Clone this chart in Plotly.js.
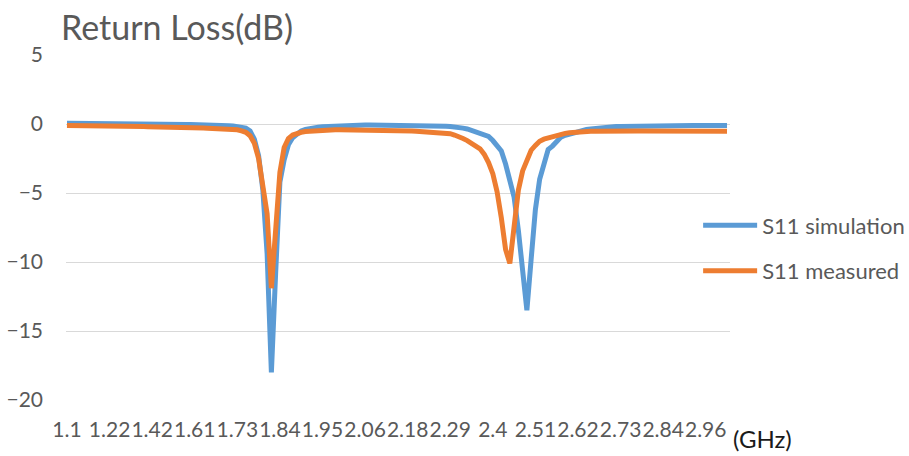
<!DOCTYPE html>
<html>
<head>
<meta charset="utf-8">
<script src="https://cdn.plot.ly/plotly-3.0.1.min.js"></script>
<style>html,body{margin:0;padding:0;background:#fff;}#chart{width:909px;height:456px;}</style>
</head>
<body>
<div id="chart"></div>
<script>
// Frequency categories (GHz)
const freq = [
1.1,1.112,1.124,1.136,1.148,1.16,1.172,1.184,1.196,1.208,
1.22,1.24,1.26,1.28,1.3,1.32,1.34,1.36,1.38,1.4,
1.42,1.439,1.458,1.477,1.496,1.515,1.534,1.553,1.572,1.591,
1.61,1.622,1.634,1.646,1.658,1.67,1.682,1.694,1.706,1.718,
1.73,1.741,1.752,1.763,1.774,1.785,1.796,1.807,1.818,1.829,
1.84,1.851,1.862,1.873,1.884,1.895,1.906,1.917,1.928,1.939,
1.95,1.961,1.972,1.983,1.994,2.005,2.016,2.027,2.038,2.049,
2.06,2.072,2.084,2.096,2.108,2.12,2.132,2.144,2.156,2.168,
2.18,2.191,2.202,2.213,2.224,2.235,2.246,2.257,2.268,2.279,
2.29,2.301,2.312,2.323,2.334,2.345,2.356,2.367,2.378,2.389,
2.4,2.411,2.422,2.433,2.444,2.455,2.466,2.477,2.488,2.499,
2.51,2.521,2.532,2.543,2.554,2.565,2.576,2.587,2.598,2.609,
2.62,2.631,2.642,2.653,2.664,2.675,2.686,2.697,2.708,2.719,
2.73,2.741,2.752,2.763,2.774,2.785,2.796,2.807,2.818,2.829,
2.84,2.852,2.864,2.876,2.888,2.9,2.912,2.924,2.936,2.948,
2.96,2.972,2.984,2.996,3.008,3.02
];

// S11 simulation (dB)
const s11Simulation = [
0.06,0.06,0.05,0.05,0.05,0.04,0.04,0.04,0.03,0.03,
0.03,0.02,0.02,0.02,0.01,0.01,0.01,0,0,0,
0,-0.01,-0.01,-0.01,-0.02,-0.02,-0.02,-0.03,-0.03,-0.04,
-0.04,-0.05,-0.05,-0.06,-0.07,-0.08,-0.09,-0.1,-0.12,-0.14,
-0.17,-0.2,-0.3,-0.5,-1.1,-2.3,-4.8,-9.4,-18,-10.8,
-4.2,-2.6,-1.5,-1.0,-0.7,-0.5,-0.4,-0.32,-0.27,-0.23,
-0.2,-0.18,-0.16,-0.14,-0.12,-0.11,-0.1,-0.1,-0.09,-0.09,
-0.08,-0.08,-0.08,-0.08,-0.08,-0.08,-0.08,-0.08,-0.08,-0.08,
-0.09,-0.09,-0.1,-0.1,-0.11,-0.12,-0.13,-0.14,-0.15,-0.16,
-0.18,-0.2,-0.25,-0.3,-0.36,-0.47,-0.53,-0.6,-0.75,-0.9,
-1.2,-1.55,-1.95,-2.9,-4.0,-5.3,-7.7,-10.7,-13.5,-9.8,
-6.2,-4.0,-2.75,-1.85,-1.6,-1.25,-0.95,-0.82,-0.72,-0.62,
-0.52,-0.46,-0.4,-0.36,-0.32,-0.28,-0.26,-0.23,-0.21,-0.19,
-0.18,-0.17,-0.16,-0.15,-0.14,-0.13,-0.12,-0.12,-0.11,-0.11,
-0.11,-0.1,-0.1,-0.1,-0.1,-0.1,-0.1,-0.1,-0.1,-0.1,
-0.1,-0.1,-0.1,-0.1,-0.1,-0.1
];

// S11 measured (dB)
const s11Measured = [
-0.1,-0.1,-0.11,-0.11,-0.12,-0.12,-0.13,-0.13,-0.14,-0.14,
-0.15,-0.15,-0.16,-0.16,-0.17,-0.18,-0.18,-0.19,-0.19,-0.2,
-0.2,-0.21,-0.21,-0.22,-0.23,-0.23,-0.24,-0.25,-0.26,-0.27,
-0.27,-0.28,-0.29,-0.3,-0.31,-0.32,-0.34,-0.35,-0.37,-0.39,
-0.42,-0.5,-0.6,-0.85,-1.4,-2.5,-4.5,-6.5,-11.9,-7.3,
-3.5,-1.7,-1.05,-0.8,-0.68,-0.6,-0.55,-0.52,-0.5,-0.48,
-0.46,-0.44,-0.43,-0.42,-0.42,-0.42,-0.42,-0.42,-0.42,-0.42,
-0.42,-0.43,-0.43,-0.44,-0.44,-0.45,-0.45,-0.46,-0.46,-0.47,
-0.48,-0.5,-0.52,-0.54,-0.56,-0.58,-0.6,-0.63,-0.66,-0.68,
-0.7,-0.8,-0.9,-1.05,-1.2,-1.4,-1.6,-1.8,-2.2,-2.8,
-3.6,-4.9,-6.8,-9.1,-10.1,-7.6,-4.8,-3.4,-2.6,-1.9,
-1.55,-1.25,-1.1,-1.0,-0.9,-0.8,-0.75,-0.68,-0.64,-0.6,
-0.57,-0.55,-0.54,-0.53,-0.52,-0.51,-0.5,-0.5,-0.5,-0.5,
-0.5,-0.5,-0.5,-0.5,-0.5,-0.5,-0.5,-0.5,-0.5,-0.5,
-0.5,-0.5,-0.5,-0.5,-0.5,-0.5,-0.5,-0.5,-0.5,-0.5,
-0.5,-0.5,-0.51,-0.51,-0.52,-0.52
];

// Tick labels shown on the category axis
const tickLabels = ["1.1","1.22","1.42","1.61","1.73","1.84","1.95","2.06","2.18","2.29","2.4","2.51","2.62","2.73","2.84","2.96"];
const yTicks = [5,0,-5,-10,-15,-20];

const cats = freq.map(String);
const FONT = 'Lato, "Open Sans", sans-serif';
const GREY = '#595959';

const traces = [
  {x: cats, y: s11Simulation, type: 'scatter', mode: 'lines', name: 'S11 simulation',
   legendgroup: 'a', line: {color: '#5B9BD5', width: 5}},
  {x: cats, y: s11Measured, type: 'scatter', mode: 'lines', name: 'S11 measured',
   legendgroup: 'b', line: {color: '#ED7D31', width: 5}}
];

const layout = {
  width: 909, height: 456,
  margin: {l: 66, r: 179, t: 55, b: 56, pad: 0, autoexpand: false},
  paper_bgcolor: '#ffffff', plot_bgcolor: '#ffffff',
  font: {family: FONT, color: GREY, size: 20},
  showlegend: true,
  legend: {x: 0.952, xanchor: 'left', y: 0.567, yanchor: 'top', bgcolor: 'rgba(0,0,0,0)',
           font: {family: FONT, size: 22, color: GREY}, tracegroupgap: 14, itemwidth: 54},
  xaxis: {type: 'category', range: [-0.23, 155.7], tickmode: 'array', tickvals: tickLabels, ticktext: tickLabels,
          tickangle: 0, showgrid: false, zeroline: false, showline: false, ticks: '',
          tickfont: {family: FONT, size: 21, color: GREY}, ticklabelstandoff: 15},
  yaxis: {range: [-20, 5], tickmode: 'array', tickvals: yTicks, showgrid: true, gridcolor: '#d9d9d9', gridwidth: 1,
          zeroline: false, showline: false, ticks: '', tickfont: {family: FONT, size: 21, color: GREY},
          ticklabelstandoff: 22},
  annotations: [
    {text: 'Return Loss(dB)', xref: 'paper', yref: 'paper', x: -0.01, y: 1.083, xanchor: 'left', yanchor: 'middle',
     showarrow: false, font: {family: FONT, size: 34, color: GREY}},
    {text: '(GHz)', xref: 'paper', yref: 'paper', x: 1.003, y: -0.113, xanchor: 'left', yanchor: 'middle',
     showarrow: false, borderpad: 0, font: {family: FONT, size: 24, color: '#1a1a1a'}}
  ]
};

Plotly.newPlot('chart', traces, layout, {displayModeBar: false, staticPlot: true});
</script>
</body>
</html>
